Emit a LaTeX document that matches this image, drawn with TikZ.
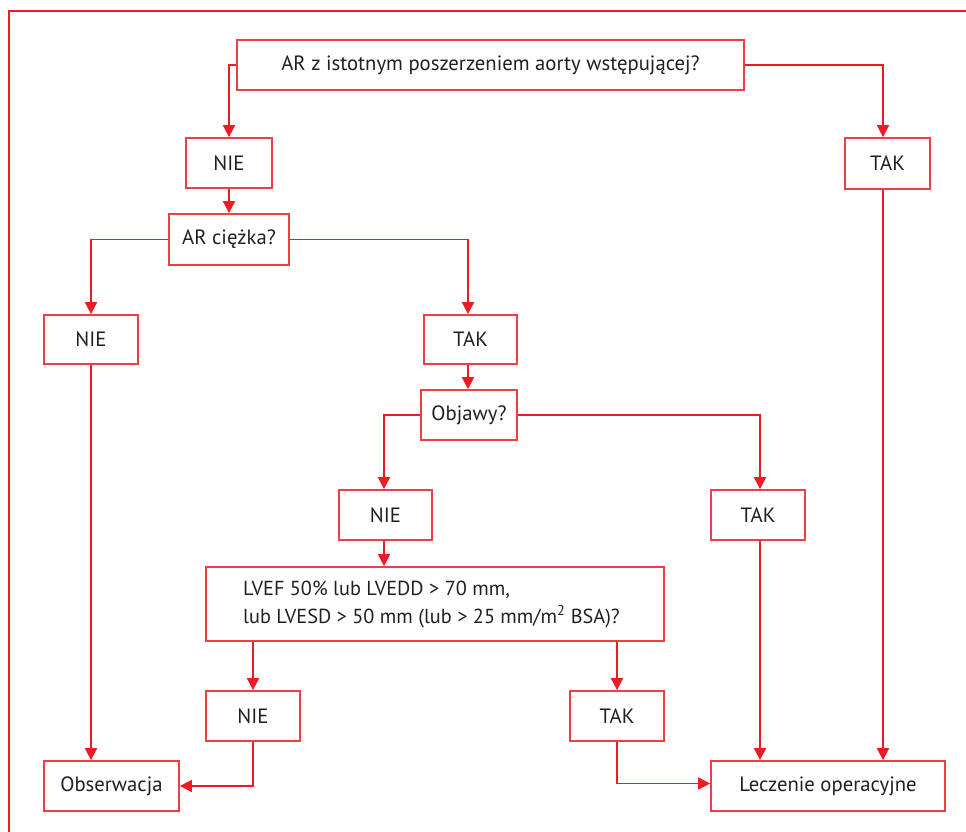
\documentclass[tikz,border=0pt]{standalone}
\usepackage{fontspec}
\setmainfont{PT Sans}
\usetikzlibrary{arrows.meta,calc}
\definecolor{fred}{HTML}{ED1C24}
\definecolor{ftxt}{HTML}{231F20}
\begin{document}
\begin{tikzpicture}[x=1pt,y=-1pt,
  box/.style={draw=fred!85,line width=1.7pt,text=ftxt,font=\fontsize{20.7}{24}\selectfont,inner sep=0pt,anchor=center},
  arr/.style={draw=fred,line width=1.7pt,-{Triangle[width=12pt,length=12pt]}},
  ln/.style={draw=fred,line width=1.7pt}]
\useasboundingbox (0,0) rectangle (966,832);
\draw[fred,line width=2.8pt] (9,834) -- (9,11) -- (968,11);
% nodes
\node[box,minimum width=507pt,minimum height=50pt] (q1) at (490.5,65) {AR z istotnym poszerzeniem aorty wstępującej?};
\node[box,minimum width=86pt,minimum height=50pt] (nie1) at (229,163) {NIE};
\node[box,minimum width=85pt,minimum height=51pt] (tak1) at (887.5,163.5) {TAK};
\node[box,minimum width=120pt,minimum height=51pt] (q2) at (229,239.5) {AR ciężka?};
\node[box,minimum width=94pt,minimum height=49pt] (nie2) at (91,339.5) {NIE};
\node[box,minimum width=93pt,minimum height=49pt] (tak2) at (470.5,339.5) {TAK};
\node[box,minimum width=96pt,minimum height=50pt] (q3) at (469,415) {Objawy?};
\node[box,minimum width=93pt,minimum height=50pt] (nie3) at (385.5,515) {NIE};
\node[box,minimum width=94pt,minimum height=50pt] (tak3) at (758,515) {TAK};
\node[box,minimum width=458pt,minimum height=74pt] (q4) at (435,604) {};
\node[text=ftxt,font=\fontsize{20.3}{28}\selectfont,align=left,anchor=west,inner sep=0pt] (q4t) at (243,604) {LVEF 50\% lub LVEDD > 70 mm,\\lub LVESD > 50 mm (lub > 25 mm/m\textsuperscript{2} BSA)?};
\node[box,minimum width=94pt,minimum height=50pt] (nie4) at (253,716) {NIE};
\node[box,minimum width=94pt,minimum height=50pt] (tak4) at (617,716) {TAK};
\node[box,minimum width=135pt,minimum height=50pt] (obs) at (111.5,786) {Obserwacja};
\node[box,minimum width=234pt,minimum height=50pt] (lecz) at (828,786) {Leczenie operacyjne};
% connectors
\draw[arr] (q1.west) -| (nie1.north);
\draw[arr] (q1.east) -| ([xshift=-4.5pt]tak1.north);
\draw[arr] (nie1.south) -- (q2.north);
\draw[arr] (q2.west) -| (nie2.north);
\draw[arr] (q2.east) -| ([xshift=-2.5pt]tak2.north);
\draw[arr] (nie2.south) -- (nie2.south |- obs.north);
\draw[arr] ([xshift=-2.5pt]tak2.south) -- ([xshift=-2.5pt]tak2.south |- q3.north);
\draw[arr] (q3.west) -| ([xshift=-1.5pt]nie3.north);
\draw[arr] (q3.east) -| ([xshift=2pt]tak3.north);
\draw[arr] ([xshift=-1.5pt]nie3.south) -- ([xshift=-1.5pt]nie3.south |- q4.north);
\draw[arr] ([xshift=2pt]tak3.south) -- ([xshift=2pt]tak3.south |- lecz.north);
\draw[arr] ([xshift=-4.5pt]tak1.south) -- ([xshift=-4.5pt]tak1.south |- lecz.north);
\draw[arr] (nie4.north |- q4.south) -- (nie4.north);
\draw[arr] (tak4.north |- q4.south) -- (tak4.north);
\draw[arr] (nie4.south) |- (obs.east);
\draw[arr] (tak4.south) |- ([yshift=2.5pt]lecz.west);
\end{tikzpicture}
\end{document}
